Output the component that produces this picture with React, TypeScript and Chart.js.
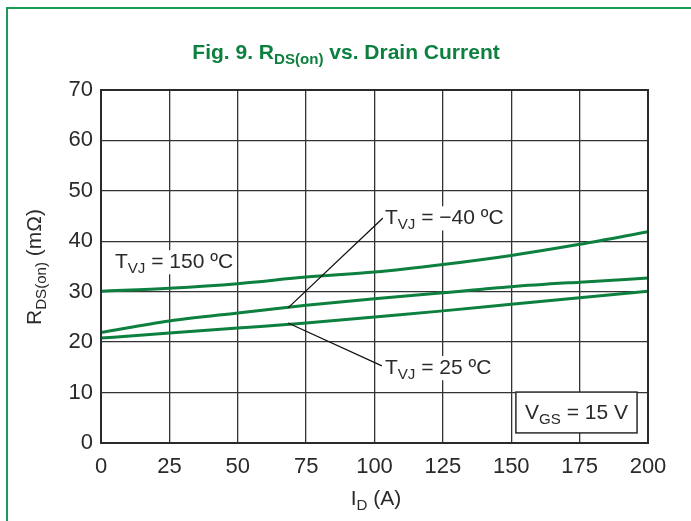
import React, { useEffect, useRef } from "react";
import { Chart, registerables } from "chart.js";

Chart.register(...registerables);

const currents = [0, 25, 50, 75, 100, 125, 150, 175, 200];
const rds150 = [30.1, 30.7, 31.6, 32.9, 33.9, 35.4, 37.2, 39.4, 41.9];
const rdsMinus40 = [21.9, 24.2, 25.8, 27.3, 28.6, 29.8, 31.0, 31.9, 32.7];
const rds25 = [20.8, 21.8, 22.8, 23.8, 25.0, 26.2, 27.5, 28.8, 30.1];
const xTicks = [0, 25, 50, 75, 100, 125, 150, 175, 200];
const yTicks = [0, 10, 20, 30, 40, 50, 60, 70];

const GREEN = "#0d8040";
const FRAME_GREEN = "#1f9a55";
const INK = "#2a2a2a";
const FONT = "'Liberation Sans', Arial, sans-serif";

type Part = { t: string; sub?: boolean };

function richWidth(ctx: CanvasRenderingContext2D, parts: Part[], size: number, weight: string) {
  let w = 0;
  for (const p of parts) {
    ctx.font = `${weight} ${p.sub ? size * 0.72 : size}px ${FONT}`;
    w += ctx.measureText(p.t).width;
  }
  return w;
}

function drawRich(
  ctx: CanvasRenderingContext2D,
  parts: Part[],
  x: number,
  y: number,
  size: number,
  color: string,
  align: "left" | "center",
  weight = "normal"
) {
  const total = richWidth(ctx, parts, size, weight);
  let cx = align === "center" ? x - total / 2 : x;
  ctx.fillStyle = color;
  ctx.textBaseline = "alphabetic";
  ctx.textAlign = "left";
  for (const p of parts) {
    ctx.font = `${weight} ${p.sub ? size * 0.72 : size}px ${FONT}`;
    ctx.fillText(p.t, cx, p.sub ? y + size * 0.22 : y);
    cx += ctx.measureText(p.t).width;
  }
  return total;
}

const overlay = {
  id: "overlay",
  afterDatasetsDraw(chart: any) {
    const { ctx, chartArea: a, scales } = chart;
    const xs = scales.x;
    const ys = scales.y;
    const px = (v: number) => xs.getPixelForValue(v);
    const py = (v: number) => ys.getPixelForValue(v);
    ctx.save();

    // frame of plot
    ctx.strokeStyle = INK;
    ctx.lineWidth = 2;
    ctx.strokeRect(a.left, a.top, a.right - a.left, a.bottom - a.top);

    // leader lines
    ctx.lineWidth = 1.3;
    ctx.strokeStyle = "#111";
    ctx.beginPath();
    ctx.moveTo(px(68.4), py(26.8));
    ctx.lineTo(px(103.1), py(44.6));
    ctx.moveTo(px(68.4), py(23.8));
    ctx.lineTo(px(102.7), py(15.3));
    ctx.stroke();

    const size = 21;
    const label = (parts: Part[], xv: number, yv: number) => {
      const w = richWidth(ctx, parts, size, "normal");
      const x = px(xv);
      const y = py(yv);
      ctx.fillStyle = "#fff";
      ctx.fillRect(x - 2, y - size * 0.85, w + 4, size * 1.15);
      drawRich(ctx, parts, x, y, size, INK, "left");
    };
    label([{ t: "T" }, { t: "VJ", sub: true }, { t: " = 150 \u00BAC" }], 5.1, 34.7);
    label([{ t: "T" }, { t: "VJ", sub: true }, { t: " = \u221240 \u00BAC" }], 103.8, 43.4);
    label([{ t: "T" }, { t: "VJ", sub: true }, { t: " = 25 \u00BAC" }], 103.8, 13.7);

    // VGS box
    const bx0 = px(151.7), bx1 = px(196), by0 = py(10.1), by1 = py(2.0);
    ctx.fillStyle = "#fff";
    ctx.fillRect(bx0, by0, bx1 - bx0, by1 - by0);
    ctx.strokeStyle = INK;
    ctx.lineWidth = 1.5;
    ctx.strokeRect(bx0, by0, bx1 - bx0, by1 - by0);
    drawRich(ctx, [{ t: "V" }, { t: "GS", sub: true }, { t: " = 15 V" }], (bx0 + bx1) / 2, by1 - 14, 21, INK, "center");

    // title
    drawRich(
      ctx,
      [{ t: "Fig. 9. R" }, { t: "DS(on)", sub: true }, { t: " vs. Drain Current" }],
      346,
      59,
      21,
      GREEN,
      "center",
      "bold"
    );

    // x axis title
    drawRich(ctx, [{ t: "I" }, { t: "D", sub: true }, { t: " (A)" }], 376, 505, 21, INK, "center");

    // y axis title (rotated)
    ctx.save();
    ctx.translate(41, 267);
    ctx.rotate(-Math.PI / 2);
    drawRich(ctx, [{ t: "R" }, { t: "DS(on)", sub: true }, { t: " (m\u03A9)" }], 0, 0, 21, INK, "center");
    ctx.restore();

    ctx.restore();
  },
};

export default function App() {
  const ref = useRef<HTMLCanvasElement>(null);
  useEffect(() => {
    if (!ref.current) return;
    const mk = (label: string, data: number[]) => ({
      label,
      data: currents.map((c, i) => ({ x: c, y: data[i] })),
      borderColor: GREEN,
      borderWidth: 3,
      pointRadius: 0,
      fill: false,
      cubicInterpolationMode: "monotone" as const,
    });
    const chart = new Chart(ref.current, {
      type: "line",
      data: {
        datasets: [mk("150", rds150), mk("-40", rdsMinus40), mk("25", rds25)],
      },
      options: {
        animation: false,
        responsive: false,
        devicePixelRatio: 1,
        layout: { padding: { left: 0, right: 43, top: 90, bottom: 0 } },
        plugins: { legend: { display: false }, tooltip: { enabled: false }, title: { display: false } },
        scales: {
          x: {
            type: "linear",
            min: 0,
            max: 200,
            afterBuildTicks: (s: any) => {
              s.ticks = xTicks.map((v) => ({ value: v }));
            },
            afterFit: (s: any) => {
              s.height = 78;
            },
            grid: { color: "#333", lineWidth: 1.3, drawTicks: false },
            border: { display: false },
            ticks: {
              color: INK,
              padding: 11,
              font: { family: FONT, size: 22 },
              maxRotation: 0,
            },
          },
          y: {
            type: "linear",
            min: 0,
            max: 70,
            afterBuildTicks: (s: any) => {
              s.ticks = yTicks.map((v) => ({ value: v }));
            },
            afterFit: (s: any) => {
              s.width = 101;
            },
            grid: { color: "#333", lineWidth: 1.3, drawTicks: false },
            border: { display: false },
            ticks: {
              color: INK,
              padding: 8,
              font: { family: FONT, size: 22 },
            },
          },
        },
      },
      plugins: [overlay],
    });
    return () => chart.destroy();
  }, []);
  return (
    <div style={{ position: "fixed", left: 0, top: 0, width: 691, height: 521, background: "#fff" }}>
      <div
        style={{
          position: "absolute",
          left: 6,
          top: 7,
          right: 0,
          bottom: 0,
          borderLeft: `2px solid ${FRAME_GREEN}`,
          borderTop: `2px solid ${FRAME_GREEN}`,
        }}
      />
      <canvas ref={ref} width={691} height={521} style={{ position: "absolute", left: 0, top: 0, display: "block" }} />
    </div>
  );
}
